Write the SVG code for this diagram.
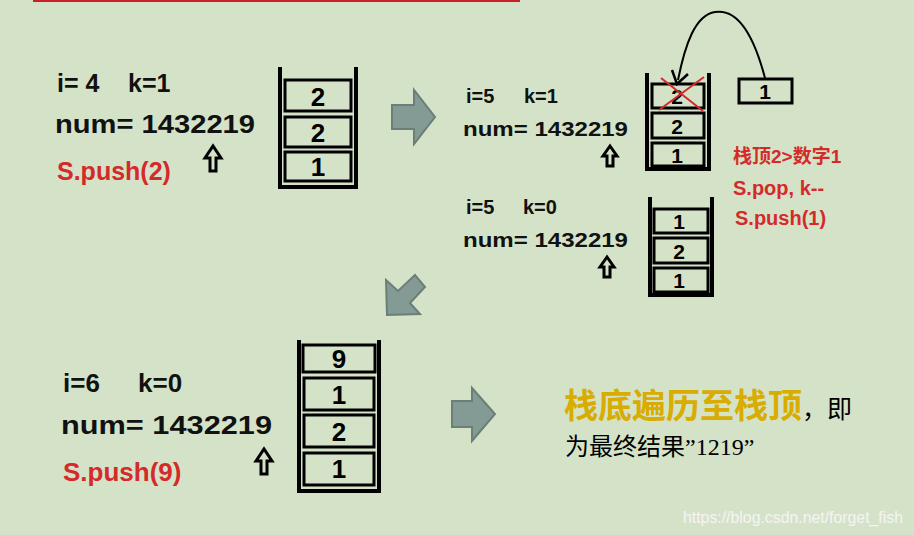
<svg xmlns="http://www.w3.org/2000/svg" width="914" height="535" viewBox="0 0 914 535">
<style>
.t{font-family:"Liberation Sans","Noto Sans CJK SC",sans-serif;font-weight:bold;fill:#111}
.r{font-family:"Liberation Sans","Noto Sans CJK SC",sans-serif;font-weight:bold;fill:#d42a2a}
.w{fill:none;stroke:#000;stroke-width:4}
.c{fill:none;stroke:#000;stroke-width:3}
.n{font-family:"Liberation Sans",sans-serif;font-weight:bold;fill:#000;text-anchor:middle}
.g{fill:#849a94;stroke:#6c7e78;stroke-width:2}
.u{fill:none;stroke:#000;stroke-width:3;stroke-linejoin:miter}
</style>
<rect width="914" height="535" fill="#d4e3c8"/>
<rect x="33" y="0" width="487" height="2" fill="#c8202a"/>
<g id="state1">
<text class="t" x="57" y="92" font-size="25">i= 4</text><text class="t" x="128" y="92" font-size="25">k=1</text>
<text class="t" x="55" y="133" font-size="25" textLength="200" lengthAdjust="spacingAndGlyphs">num= 1432219</text>
<text class="r" x="57" y="180" font-size="25">S.push(2)</text>
<polygon class="u" points="210,171 210,158 205,158 213,146 221,158 216,158 216,171"/>
</g>
<g id="stack1">
<path class="w" d="M280,67 V187 H356 V67"/>
<rect class="c" x="285" y="80" width="66" height="31"/><text class="n" x="318" y="106" font-size="26">2</text>
<rect class="c" x="285" y="117" width="66" height="30"/><text class="n" x="318" y="142" font-size="26">2</text>
<rect class="c" x="285" y="152" width="66" height="29"/><text class="n" x="318" y="176" font-size="26">1</text>
</g>
<g id="state2">
<text class="t" x="466" y="103" font-size="20">i=5</text><text class="t" x="524" y="103" font-size="20">k=1</text>
<text class="t" x="463" y="136" font-size="20" textLength="165" lengthAdjust="spacingAndGlyphs">num= 1432219</text>
<polygon class="u" points="607,166 607,156 603,156 610,146 617,156 613,156 613,166"/>
<text class="r" x="733" y="163" font-size="19">栈顶2&gt;数字1</text>
<text class="r" x="733" y="195" font-size="20">S.pop, k--</text>
<text class="r" x="735" y="225" font-size="20">S.push(1)</text>
</g>
<g id="stack2">
<path class="w" d="M647,73 V169 H709 V73"/>
<rect class="c" x="652" y="84" width="52" height="24"/><text class="n" x="677" y="104" font-size="21">2</text>
<rect class="c" x="652" y="113" width="52" height="25"/><text class="n" x="677" y="134" font-size="21">2</text>
<rect class="c" x="652" y="143" width="52" height="23"/><text class="n" x="677" y="163" font-size="21">1</text>
<path d="M659,110 L704,77 M661,78 L703,111" stroke="#d42a2a" stroke-width="2"/>
<rect class="c" x="739" y="79" width="53" height="24"/><text class="n" x="765" y="99" font-size="21">1</text>
</g>
<g id="state3">
<text class="t" x="466" y="214" font-size="20">i=5</text><text class="t" x="523" y="214" font-size="20">k=0</text>
<text class="t" x="463" y="247" font-size="20" textLength="165" lengthAdjust="spacingAndGlyphs">num= 1432219</text>
<polygon class="u" points="604,277 604,267 600,267 607,257 614,267 610,267 610,277"/>
</g>
<g id="stack3">
<path class="w" d="M650,197 V295 H712 V197"/>
<rect class="c" x="654" y="209" width="54" height="24"/><text class="n" x="679" y="229" font-size="21">1</text>
<rect class="c" x="654" y="238" width="54" height="25"/><text class="n" x="679" y="259" font-size="21">2</text>
<rect class="c" x="654" y="268" width="54" height="24"/><text class="n" x="679" y="288" font-size="21">1</text>
</g>
<g id="state4">
<text class="t" x="63" y="392" font-size="26">i=6</text><text class="t" x="138" y="392" font-size="26">k=0</text>
<text class="t" x="61" y="434" font-size="26" textLength="211" lengthAdjust="spacingAndGlyphs">num= 1432219</text>
<text class="r" x="63" y="481" font-size="26">S.push(9)</text>
<polygon class="u" points="261,474 261,461 256,461 264,449 272,461 267,461 267,474"/>
</g>
<g id="stack4">
<path class="w" d="M299,340 V491 H379 V340"/>
<rect class="c" x="303" y="345" width="72" height="27"/><text class="n" x="339" y="368" font-size="26">9</text>
<rect class="c" x="304" y="378" width="70" height="32"/><text class="n" x="339" y="404" font-size="26">1</text>
<rect class="c" x="304" y="415" width="70" height="32"/><text class="n" x="339" y="441" font-size="26">2</text>
<rect class="c" x="304" y="453" width="70" height="32"/><text class="n" x="339" y="478" font-size="26">1</text>
</g>
<g id="result">
<text x="564" y="418" font-size="34" font-weight="bold" fill="#d8ac00" font-family="Noto Sans CJK SC,sans-serif">栈底遍历至栈顶<tspan fill="#000" font-size="25" font-weight="normal">，即</tspan></text>
<text x="565" y="455" font-size="24" fill="#000" font-family="Noto Sans CJK SC,serif">为最终结果<tspan font-family="Liberation Serif,serif">”1219”</tspan></text>
</g>
<g id="connectors">
<polygon class="g" points="392,105 414,105 414,90 435,117 414,144 414,129 392,129"/>
<polygon class="g" points="386,280 398,291 415,275 425,287 410,303 420,314 387,315"/>
<polygon class="g" points="452,401 472,401 472,388 495,414 472,441 472,427 452,427"/>
<path d="M765,78 C755,40 740,8 715,12 C695,15 685,45 678,80" fill="none" stroke="#000" stroke-width="2"/>
<path d="M672,70 L677,84 L688,74" fill="none" stroke="#000" stroke-width="2.5"/>
</g>
<text x="683" y="523" font-size="16" fill="#f4f4f4" font-family="Liberation Sans,sans-serif" textLength="220" lengthAdjust="spacingAndGlyphs">https://blog.csdn.net/forget_fish</text>
</svg>
